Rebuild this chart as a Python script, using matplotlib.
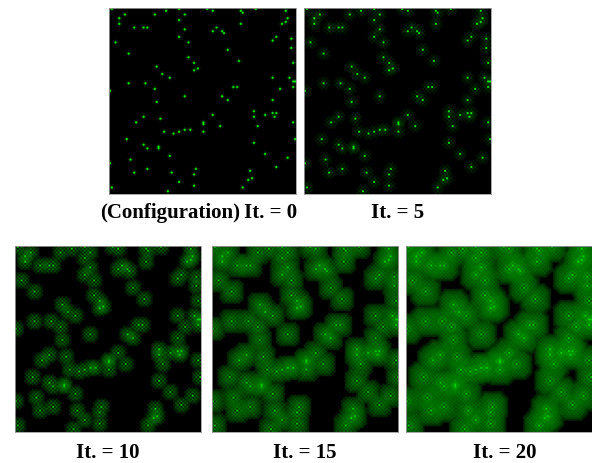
#!/usr/bin/env python3
"""Five snapshots of a front spreading out from a random point configuration."""
import numpy as np
import matplotlib
matplotlib.use("Agg")
import matplotlib.pyplot as plt
from matplotlib.colors import LinearSegmentedColormap


GRID = 100
W, H = 592, 464

seed_col = [1, 30, 37, 52, 55, 70, 71, 78, 94, 8, 24, 40, 5, 37, 95, 5, 70, 94, 92,
            13, 18, 20, 40, 57, 55, 60, 61, 37, 89, 97, 87, 3, 42, 97, 63, 10,
            42, 69, 45, 98, 25, 47, 45, 28, 32, 87, 96, 10, 19, 98, 99, 66, 68, 24, 91, 98, 0,
            40, 60, 63, 87, 25, 77, 87, 89, 83, 55, 18, 77, 88, 27,
            50, 50, 14, 98, 59, 79, 40, 43, 37, 29, 50, 34, 9, 99, 77, 18,
            20, 26, 26, 83, 32, 95, 11, 0, 89, 20, 46, 75, 13, 33, 45, 76, 74, 37, 45, 1, 71, 31]
seed_row = [0, 1, 0, 0, 1, 1, 2, 0, 1, 3, 3, 3, 5, 6, 5, 8, 8, 7, 8,
            10, 10, 10, 11, 10, 12, 12, 13, 15, 15, 16, 17, 18, 18, 21, 22, 24,
            26, 28, 29, 29, 31, 32, 33, 35, 37, 37, 37, 40, 40, 39, 39, 42, 42, 43, 43, 42, 44,
            47, 47, 49, 49, 50, 55, 56, 56, 57, 57, 58, 58, 58, 59,
            61, 62, 61, 61, 63, 63, 65, 65, 66, 66, 66, 67, 70, 70, 72, 73,
            75, 74, 75, 78, 79, 80, 81, 83, 85, 86, 86, 87, 88, 88, 89, 91, 92, 93, 95, 96, 96, 98]

iterations = [0, 5, 10, 15, 20]
labels = ["It. = 0", "It. = 5", "It. = 10", "It. = 15", "It. = 20"]

# brightness by ring around a seed
profile_0 = [1.0, 0.14]
profile_5 = [1.0, 0.2, 0.18, 0.1]
profile_10 = [0.8, 0.14, 0.4, 0.3, 0.16]
profile_15 = [0.78, 0.3, 0.46, 0.38, 0.34, 0.28, 0.18]
profile_20 = [0.78, 0.38, 0.52, 0.42, 0.42, 0.38, 0.34, 0.28, 0.17]
profiles = [profile_0, profile_5, profile_10, profile_15, profile_20]
checker = [0.0, 0.9, 0.65, 0.35, 0.22]

# panel boxes in pixels: left, top, right, bottom
boxes = [(109, 9, 296, 195), (304, 9, 491, 195),
         (15, 247, 201, 433), (212, 247, 398, 433), (406, 247, 592, 433)]


def field(profile, depth):
    rows, cols = np.mgrid[0:GRID, 0:GRID]
    total = np.zeros((GRID, GRID))
    peak = np.zeros((GRID, GRID))
    lookup = np.array(list(profile) + [0.0])
    for col, row in zip(seed_col, seed_row):
        dx, dy = np.abs(cols - col), np.abs(rows - row)
        ring = np.maximum(np.maximum(dx, dy), np.ceil(.6 * (dx + dy))).astype(int)
        value = lookup[np.minimum(ring, len(profile))]
        value = value * (1 - depth * ((dx + dy) % 2))
        total += value
        peak = np.maximum(peak, value)
    return np.clip(peak + .04 * (total - peak), 0, 1)


def main():
    plt.rcParams["font.family"] = ["Liberation Serif", "DejaVu Serif"]
    greens = LinearSegmentedColormap.from_list("front", ["#000000", "#00ff00"])
    fig = plt.figure(figsize=(W / 100, H / 100), dpi=100)

    for n, box in enumerate(boxes):
        left, top, right, bottom = box
        axis = fig.add_axes([left / W, 1 - bottom / H, (right - left) / W, (bottom - top) / H])
        # repeat the cells so the resampling keeps them blocky
        cells = field(profiles[n], checker[n]).repeat(3, axis=0).repeat(3, axis=1)
        axis.imshow(cells, cmap=greens, vmin=0, vmax=1,
                    aspect="auto", interpolation="bilinear")
        axis.set_xticks([])
        axis.set_yticks([])
        for spine in axis.spines.values():
            spine.set_color("#999999")
            spine.set_linewidth(.6)

    text = dict(fontsize=15, fontweight="bold", ha="center", va="center")
    fig.text(170.5 / W, 1 - 213 / H, "(Configuration)", **text)
    fig.text(271 / W, 1 - 213 / H, labels[0], **text)
    fig.text(398 / W, 1 - 213 / H, labels[1], **text)
    fig.text(108 / W, 1 - 453 / H, labels[2], **text)
    fig.text(304.5 / W, 1 - 453 / H, labels[3], **text)
    fig.text(505 / W, 1 - 453 / H, labels[4], **text)

    fig.savefig("out.png", dpi=100)
    plt.close(fig)


if __name__ == "__main__":
    main()
